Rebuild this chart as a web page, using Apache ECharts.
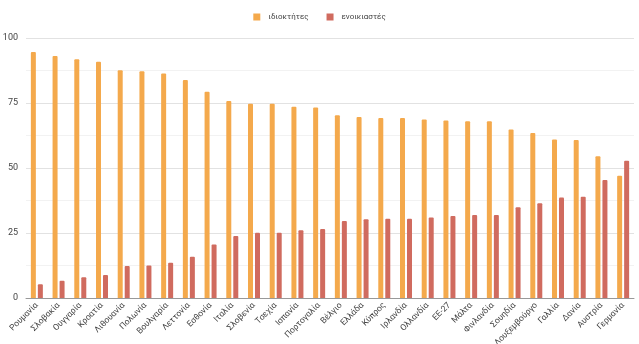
<!DOCTYPE html>
<html><head><meta charset="utf-8">
<script src="https://cdn.jsdelivr.net/npm/echarts@6/dist/echarts.min.js"></script>
<style>html,body{margin:0;padding:0;background:#fff}#c{width:639px;height:344px}</style>
</head><body><div id="c"></div>
<script>
var categories = ["Ρουμανία","Σλοβακία","Ουγγαρία","Κροατία","Λιθουανία","Πολωνία","Βουλγαρία","Λεττονία","Εσθονία","Ιταλία","Σλοβενία","Τσεχία","Ισπανία","Πορτογαλία","Βέλγιο","Ελλάδα","Κύπρος","Ιρλανδία","Ολλανδία","ΕΕ-27","Μάλτα","Φινλανδία","Σουηδία","Λουξεμβούργο","Γαλλία","Δανία","Αυστρία","Γερμανία"];
var owners = [94.6,93.1,91.8,90.9,87.6,87.2,86.3,83.8,79.3,75.8,74.7,74.7,73.6,73.3,70.3,69.6,69.2,69.2,68.7,68.3,68.0,68.0,64.8,63.5,61.0,60.8,54.5,47.0];
var tenants = [5.3,6.6,8.0,8.8,12.3,12.5,13.6,15.9,20.6,23.8,25.1,25.1,26.1,26.5,29.6,30.3,30.5,30.5,31.0,31.5,31.9,31.9,34.9,36.4,38.7,38.9,45.4,52.8];
var yTicks = [0,25,50,75,100];
var seriesNames = ["ιδιοκτήτες","ενοικιαστές"];

var chart = echarts.init(document.getElementById('c'), null, {renderer:'canvas'});
var font = 'Roboto, "Liberation Sans", Arial, sans-serif';
chart.setOption({
  animation:false,
  textStyle:{fontFamily:font},
  color:['#f4a94c','#d06b5f'],
  legend:{
    top:8, left:'center', itemWidth:7, itemHeight:7, itemGap:18,
    icon:'rect',
    textStyle:{fontSize:8, color:'#444', fontFamily:font, padding:[0,0,0,3]},
    data:seriesNames
  },
  grid:{left:26, right:5, top:38, bottom:46, containLabel:false, outerBoundsMode:'none'},
  xAxis:{
    type:'category', data:categories,
    axisTick:{show:false},
    axisLine:{lineStyle:{color:'#999'}},
    axisLabel:{rotate:45, fontSize:8.5, color:'#444', margin:6, interval:0, fontFamily:font}
  },
  yAxis:{
    type:'value', min:yTicks[0], max:yTicks[yTicks.length-1], interval:25,
    axisLine:{show:false}, axisTick:{show:false},
    axisLabel:{fontSize:9, color:'#444', margin:8, fontFamily:font},
    splitLine:{lineStyle:{color:'#e2e2e2'}},
    minorTick:{show:false, splitNumber:2},
    minorSplitLine:{show:true, lineStyle:{color:'#f2f2f2'}}
  },
  series:[
    {name:seriesNames[0], type:'bar', data:owners, barWidth:5, barGap:'40%', itemStyle:{borderRadius:[1,1,0,0]}},
    {name:seriesNames[1], type:'bar', data:tenants, barWidth:5, barGap:'40%', itemStyle:{borderRadius:[1,1,0,0]}}
  ]
});
</script></body></html>
